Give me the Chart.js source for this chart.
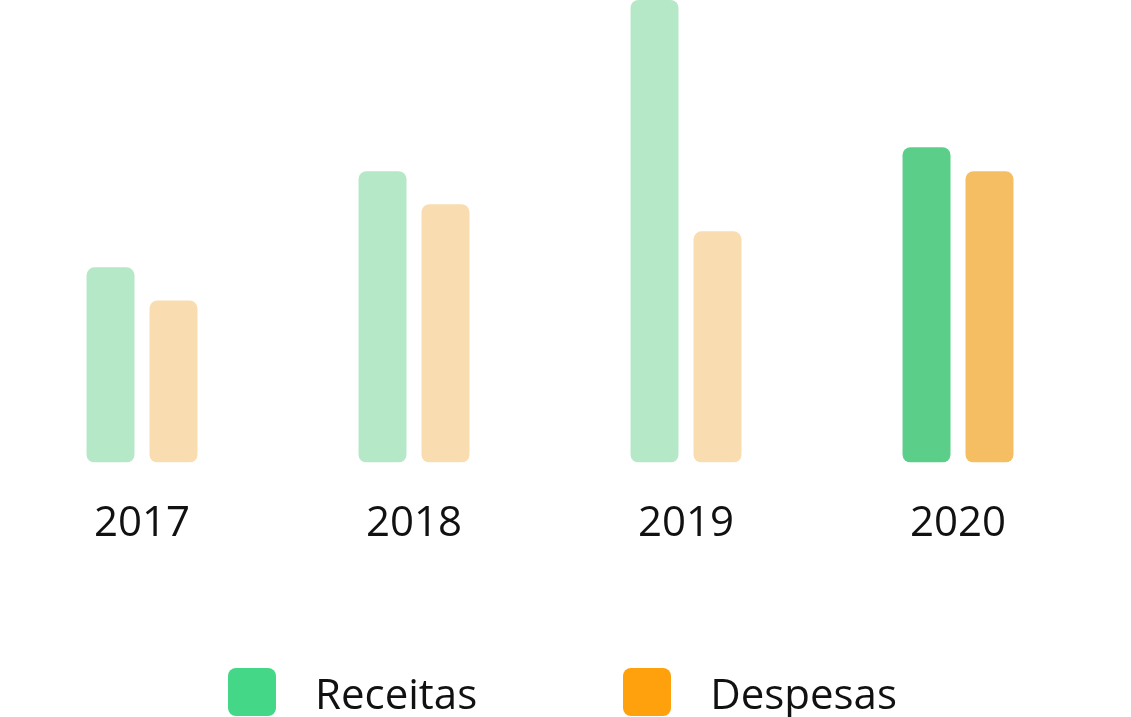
<!DOCTYPE html>
<html>
<head>
<meta charset="utf-8">
<script src="https://cdn.jsdelivr.net/npm/chart.js@4"></script>
<style>
  html, body { margin: 0; padding: 0; background: #fff; }
  #wrap { position: relative; width: 1131px; height: 717px; }
  #legend { position: absolute; left: 0; right: 6px; top: 668px; height: 48px; display: flex; justify-content: center; align-items: center; font-family: 'Open Sans', sans-serif; font-size: 42px; color: #111; }
  .item { display: flex; align-items: center; }
  .box { width: 48px; height: 48px; border-radius: 8px; margin-right: 39px; }
  .item + .item { margin-left: 146px; }
</style>
</head>
<body>
<div id="wrap">
  <canvas id="c" width="1131" height="717"></canvas>
  <div id="legend"></div>
</div>
<script>
const categories = ['2017', '2018', '2019', '2020'];
const receitas = [195, 291, 462, 315];
const despesas = [162, 258, 231, 291];
const seriesNames = ['Receitas', 'Despesas'];
const legendColors = ['#43D787', '#FFA10C'];
const receitasColors = ['#B5E8C6', '#B5E8C6', '#B5E8C6', '#5BCF8A'];
const despesasColors = ['#F9DDB0', '#F9DDB0', '#F9DDB0', '#F6BE62'];

const ctx = document.getElementById('c');
new Chart(ctx, {
  type: 'bar',
  data: {
    labels: categories,
    datasets: [
      { label: seriesNames[0], data: receitas, backgroundColor: receitasColors, borderRadius: 8, borderSkipped: false },
      { label: seriesNames[1], data: despesas, backgroundColor: despesasColors, borderRadius: 8, borderSkipped: false }
    ]
  },
  options: {
    responsive: false,
    animation: false,
    devicePixelRatio: 1,
    categoryPercentage: 0.463,
    barPercentage: 0.762,
    layout: { padding: { left: 6, right: 37, top: 0, bottom: 132 } },
    plugins: { legend: { display: false }, tooltip: { enabled: false } },
    scales: {
      x: {
        grid: { display: false, drawTicks: false },
        border: { display: false },
        ticks: { color: '#111', padding: 36, font: { family: "'Open Sans'", size: 42 } }
      },
      y: { display: false, min: 0, max: 462 }
    }
  }
});

const legend = document.getElementById('legend');
seriesNames.forEach((name, i) => {
  const item = document.createElement('div');
  item.className = 'item';
  const box = document.createElement('div');
  box.className = 'box';
  box.style.background = legendColors[i];
  const t = document.createElement('span');
  t.textContent = name;
  item.appendChild(box);
  item.appendChild(t);
  legend.appendChild(item);
});
</script>
</body>
</html>
